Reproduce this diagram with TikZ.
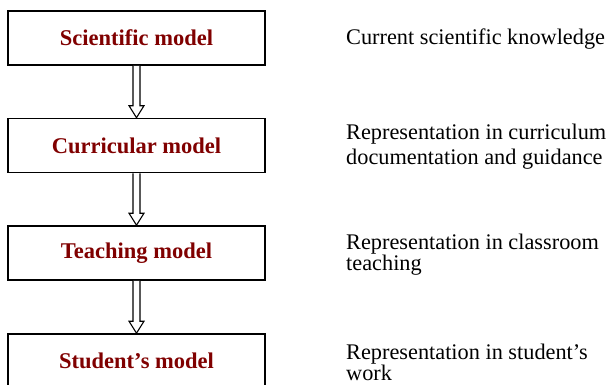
\documentclass[tikz,border=0pt]{standalone}
\usepackage{fontspec}
\setmainfont{Liberation Serif}
\usetikzlibrary{calc}
\definecolor{modelred}{RGB}{128, 0, 0}

\begin{document}
\begin{tikzpicture}[x=1pt, y=-1pt,
    modelbox/.style={draw=black, line width=1.6pt, minimum width=257pt, minimum height=54pt,
      text=modelred, font=\fontsize{22.5}{26}\selectfont\bfseries},
    sidenote/.style={anchor=west, align=left, inner sep=0pt},
    hollow/.style={draw=black, line width=1.1pt, fill=white}]
  \clip (0,0) rectangle (608,384);
  \useasboundingbox (0,0) rectangle (608,384);
  % model boxes
  \node[modelbox] (sci) at (136.5,38) {Scientific model};
  \node[modelbox] (cur) at (136.5,145.5) {Curricular model};
  \node[modelbox] (tea) at (136.5,253) {Teaching model};
  \node[modelbox] (stu) at (136.5,361) {Student’s model};
  % hollow arrows between the levels
  \foreach \a/\b in {sci/cur, cur/tea, tea/stu}
    \draw[hollow] ($(\a.south)+(-3.5,0)$) -- ($(\b.north)+(-3.5,-12)$) -- ++(-4,0)
      -- (\b.north) -- ++(7.5,-12) -- ++(-4,0) -- ($(\a.south)+(3.5,0)$);
  % descriptions
  \node[sidenote, font=\fontsize{22.3}{20}\selectfont] (sciN) at (346,39.5) {Current scientific knowledge};
  \node[sidenote, font=\fontsize{22.3}{25}\selectfont] (curN) at (346,147) {Representation in curriculum\\documentation and guidance};
  \node[sidenote, font=\fontsize{22.3}{20}\selectfont] (teaN) at (346,254.5) {Representation in classroom\\teaching};
  \node[sidenote, font=\fontsize{22.3}{21}\selectfont] (stuN) at (346,362) {Representation in student’s\\work};
\end{tikzpicture}
\end{document}
